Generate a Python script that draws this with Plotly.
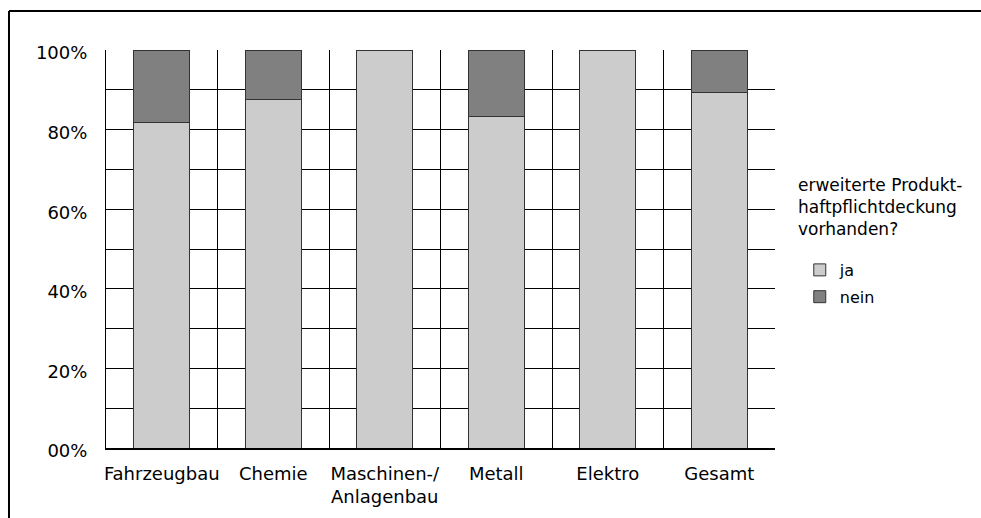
import plotly.graph_objects as go

# Anteil der Unternehmen mit erweiterter Produkthaftpflichtdeckung je Branche (in %)
branchen = ["Fahrzeugbau", "Chemie", "Maschinen-/<br>Anlagenbau", "Metall", "Elektro", "Gesamt"]
ja = [81.8, 87.5, 100.0, 83.3, 100.0, 89.4]
nein = [18.2, 12.5, 0.0, 16.7, 0.0, 10.6]

y_tickwerte = [0, 20, 40, 60, 80, 100]
y_ticktexte = ["00%", "20%", "40%", "60%", "80%", "100%"]

legendentitel = "erweiterte Produkt-<br>haftpflichtdeckung<br>vorhanden?"

schrift = "DejaVu Sans"
pos = list(range(len(branchen)))

fig = go.Figure()
fig.add_trace(go.Bar(
    x=pos, y=ja, name="ja", width=0.5, legendgroup="ja",
    marker=dict(color="#cccccc", line=dict(color="#333333", width=1)),
))
fig.add_trace(go.Bar(
    x=pos, y=nein, name="nein", width=0.5, legendgroup="nein",
    marker=dict(color="#808080", line=dict(color="#333333", width=1)),
))

fig.update_layout(
    width=981, height=518,
    margin=dict(l=106, r=206, t=50, b=70),
    paper_bgcolor="white", plot_bgcolor="white",
    barmode="stack",
    font=dict(family=schrift, size=18, color="black"),
    showlegend=True,
    legend=dict(
        font=dict(family=schrift, size=16, color="black"),
        traceorder="grouped", tracegroupgap=3,
        x=1.037, xanchor="left", y=0.49, yanchor="top",
        bgcolor="rgba(0,0,0,0)",
    ),
    xaxis=dict(
        range=[-0.5, len(branchen) - 0.5],
        tickmode="array", tickvals=pos, ticktext=branchen,
        showgrid=False, zeroline=False,
        showline=True, linecolor="black", linewidth=2,
        ticks="", ticklabelstandoff=8,
        minor=dict(tick0=-0.5, dtick=0.25, showgrid=True, gridcolor="black", gridwidth=1, ticks=""),
    ),
    yaxis=dict(
        range=[0, 100],
        tickmode="array", tickvals=y_tickwerte, ticktext=y_ticktexte,
        showgrid=True, gridcolor="black", gridwidth=1, zeroline=False,
        showline=True, linecolor="black", linewidth=1,
        ticks="", ticklabelstandoff=14, ticklabelshift=3,
        minor=dict(tick0=0, dtick=10, showgrid=True, gridcolor="black", gridwidth=1, ticks=""),
    ),
)

# Überschrift der Legende
fig.add_annotation(
    text=legendentitel, xref="paper", yref="paper",
    x=1.031, y=0.69, xanchor="left", yanchor="top", align="left",
    showarrow=False, font=dict(family=schrift, size=17, color="black"),
)

# Rahmen um die Grafik (oben und links sichtbar)
fig.add_shape(type="line", xref="paper", yref="paper",
              x0=-0.145, x1=1.5, y0=1.098, y1=1.098,
              line=dict(color="black", width=2))
fig.add_shape(type="line", xref="paper", yref="paper",
              x0=-0.145, x1=-0.145, y0=1.098, y1=-0.3,
              line=dict(color="black", width=2))

fig.write_html("out.html")
